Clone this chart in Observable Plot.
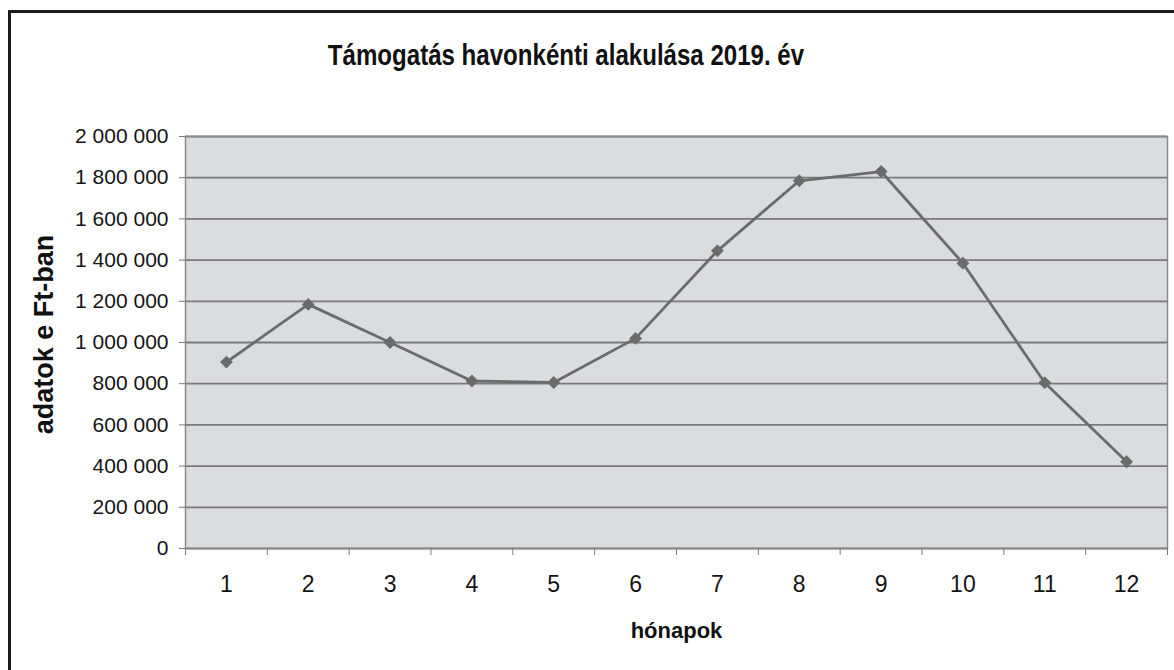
<!DOCTYPE html>
<html>
<head>
<meta charset="utf-8">
<script src="https://cdn.jsdelivr.net/npm/d3@7"></script>
<script src="https://cdn.jsdelivr.net/npm/@observablehq/plot@0.6"></script>
<style>
  html, body { margin: 0; padding: 0; background: #fff; overflow: hidden; }
  #wrap { position: relative; width: 1174px; height: 670px; overflow: hidden; font-family: "Liberation Sans", Arial, sans-serif; }
  #frame { position: absolute; left: 8px; top: 10px; width: 1300px; height: 800px;
           border-left: 3px solid #1c1c1c; border-top: 3px solid #1c1c1c; }
  #title { position: absolute; left: 566px; top: 41px; font-size: 29px; font-weight: bold; line-height: 1;
           white-space: nowrap; color: #111; transform: translateX(-50%) scaleX(0.83); }
  #chart { position: absolute; left: 0; top: 0; }
</style>
</head>
<body>
<div id="wrap">
  <div id="frame"></div>
  <div id="chart"></div>
  <div id="title">Támogatás havonkénti alakulása 2019. év</div>
</div>
<script>
const titleText = "Támogatás havonkénti alakulása 2019. év";
const xLabel = "hónapok";
const yLabel = "adatok e Ft-ban";
const months = [1, 2, 3, 4, 5, 6, 7, 8, 9, 10, 11, 12];
const values = [905000, 1185000, 1000000, 813000, 806000, 1020000, 1445000, 1785000, 1830000, 1385000, 805000, 421000];
const yTicks = [0, 200000, 400000, 600000, 800000, 1000000, 1200000, 1400000, 1600000, 1800000, 2000000];
const monthEdges = [0.5, 1.5, 2.5, 3.5, 4.5, 5.5, 6.5, 7.5, 8.5, 9.5, 10.5, 11.5, 12.5];

document.getElementById("title").textContent = titleText;

const data = months.map((m, i) => ({month: m, value: values[i]}));
const fmt = d => d3.format(",")(d).replace(/,/g, " ");
const lineColor = "#6b6b6b";
const gridColor = "#7a7a7a";

const chart = Plot.plot({
  width: 1174,
  height: 670,
  marginLeft: 185,
  marginRight: 7,
  marginTop: 136,
  marginBottom: 122,
  style: {fontFamily: "'Liberation Sans', Arial, sans-serif", background: "transparent", color: "#141414"},
  x: {type: "linear", domain: [0.5, 12.5], label: null},
  y: {domain: [0, 2000000], label: null},
  marks: [
    Plot.frame({fill: "#d9dde0"}),
    Plot.gridY(yTicks, {stroke: gridColor, strokeOpacity: 1, strokeWidth: 1.8}),
    Plot.frame({stroke: "#8a8a8a", strokeWidth: 1.5}),
    Plot.axisY(yTicks, {tickSize: 6, tickPadding: 11, tickFormat: fmt, fontSize: 21, stroke: gridColor, fill: "#141414", label: null}),
    Plot.axisX(monthEdges, {tickSize: 7, tickFormat: () => "", stroke: gridColor, label: null}),
    Plot.axisX(months, {tickSize: 0, tickPadding: 27, fontSize: 23, fill: "#141414", label: null}),
    Plot.line(data, {x: "month", y: "value", stroke: lineColor, strokeWidth: 2.8}),
    Plot.dot(data, {x: "month", y: "value", symbol: "diamond2", r: 5.8, fill: lineColor, stroke: "none"}),
    Plot.text([yLabel], {frameAnchor: "left", textAnchor: "middle", lineAnchor: "middle", dx: -141, dy: -8, rotate: -90, text: d => d, fontSize: 27, fontWeight: "bold", fill: "#111"}),
    Plot.text([xLabel], {frameAnchor: "bottom", lineAnchor: "middle", dy: 82, text: d => d, fontSize: 22, fontWeight: "bold", fill: "#111"})
  ]
});
document.getElementById("chart").appendChild(chart);
</script>
</body>
</html>
